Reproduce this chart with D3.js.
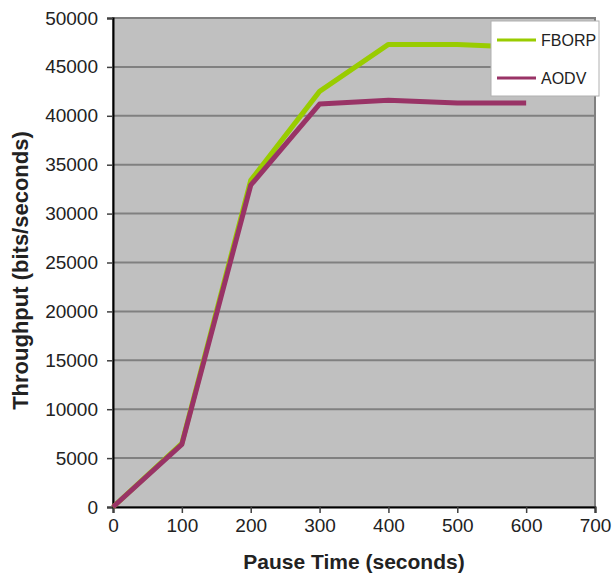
<!DOCTYPE html>
<html>
<head>
<meta charset="utf-8">
<script src="https://cdn.jsdelivr.net/npm/d3@7"></script>
<style>
  body { margin: 0; background: #fff; }
  svg text { font-family: "Liberation Sans", Arial, sans-serif; }
</style>
</head>
<body>
<div id="chart"></div>
<script>
const pauseTimes = [0, 100, 200, 300, 400, 500, 600];
const fborpValues = [0, 6500, 33400, 42500, 47300, 47300, 47000];
const aodvValues = [0, 6400, 32900, 41200, 41600, 41300, 41300];
const seriesNames = ["FBORP", "AODV"];
const xTicks = [0, 100, 200, 300, 400, 500, 600, 700];
const yTicks = [0, 5000, 10000, 15000, 20000, 25000, 30000, 35000, 40000, 45000, 50000];

const width = 613, height = 576;
const margin = {top: 18, right: 18, bottom: 69, left: 113};

const svg = d3.select("#chart").append("svg")
    .attr("width", width)
    .attr("height", height);

const x = d3.scaleLinear().domain([0, 700]).range([margin.left, width - margin.right]);
const y = d3.scaleLinear().domain([0, 50000]).range([height - margin.bottom, margin.top]);

const color = d3.scaleOrdinal().domain(seriesNames).range(["#99cc00", "#993366"]);

// plot area
svg.append("rect")
    .attr("x", x(0))
    .attr("y", y(50000))
    .attr("width", x(700) - x(0))
    .attr("height", y(0) - y(50000))
    .attr("fill", "#c0c0c0")
    .attr("stroke", "#808080")
    .attr("stroke-width", 2);

// gridlines
svg.append("g").selectAll("line")
    .data(yTicks.filter(d => d > 0))
    .join("line")
    .attr("x1", x(0)).attr("x2", x(700))
    .attr("y1", d => y(d)).attr("y2", d => y(d))
    .attr("stroke", "#808080")
    .attr("stroke-width", 2);

// axes
const yAxis = svg.append("g")
    .attr("transform", `translate(${x(0)},0)`)
    .call(d3.axisLeft(y).tickValues(yTicks).tickFormat(d3.format("d")).tickSize(6).tickPadding(9));
const xAxis = svg.append("g")
    .attr("transform", `translate(0,${y(0)})`)
    .call(d3.axisBottom(x).tickValues(xTicks).tickFormat(d3.format("d")).tickSize(6).tickPadding(6));

[yAxis, xAxis].forEach(g => {
    g.select(".domain").attr("stroke", "#000").attr("stroke-width", 2);
    g.selectAll(".tick line").attr("stroke", "#404040").attr("stroke-width", 1.5);
    g.selectAll(".tick text").style("font-size", "19px").attr("fill", "#222");
});

// lines
const series = [
    {name: "FBORP", values: fborpValues},
    {name: "AODV", values: aodvValues}
];
const line = d3.line()
    .x((d, i) => x(pauseTimes[i]))
    .y(d => y(d));

svg.append("g").selectAll("path")
    .data(series)
    .join("path")
    .attr("d", d => line(d.values))
    .attr("fill", "none")
    .attr("stroke", d => color(d.name))
    .attr("stroke-width", 5)
    .attr("stroke-linejoin", "round");

// legend
const legend = svg.append("g");
legend.append("rect")
    .attr("x", 491).attr("y", 21)
    .attr("width", 108).attr("height", 75)
    .attr("fill", "#fff")
    .attr("stroke", "#b0b0b0")
    .attr("stroke-width", 1);
const items = legend.selectAll("g.item")
    .data(seriesNames)
    .join("g")
    .attr("class", "item")
    .attr("transform", (d, i) => `translate(0,${40 + i * 38})`);
items.append("line")
    .attr("x1", 497).attr("x2", 536)
    .attr("stroke", d => color(d))
    .attr("stroke-width", 3);
items.append("text")
    .attr("x", 541)
    .attr("dy", "0.35em")
    .style("font-size", "16px")
    .attr("fill", "#222")
    .text(d => d);

// axis titles
svg.append("text")
    .attr("x", (x(0) + x(700)) / 2)
    .attr("y", 569)
    .attr("text-anchor", "middle")
    .style("font-size", "21px")
    .style("font-weight", "bold")
    .attr("fill", "#222")
    .text("Pause Time (seconds)");

svg.append("text")
    .attr("transform", `translate(28,${(y(0) + y(50000)) / 2 + 8}) rotate(-90)`)
    .attr("text-anchor", "middle")
    .style("font-size", "22px")
    .style("font-weight", "bold")
    .attr("fill", "#222")
    .text("Throughput (bits/seconds)");
</script>
</body>
</html>
